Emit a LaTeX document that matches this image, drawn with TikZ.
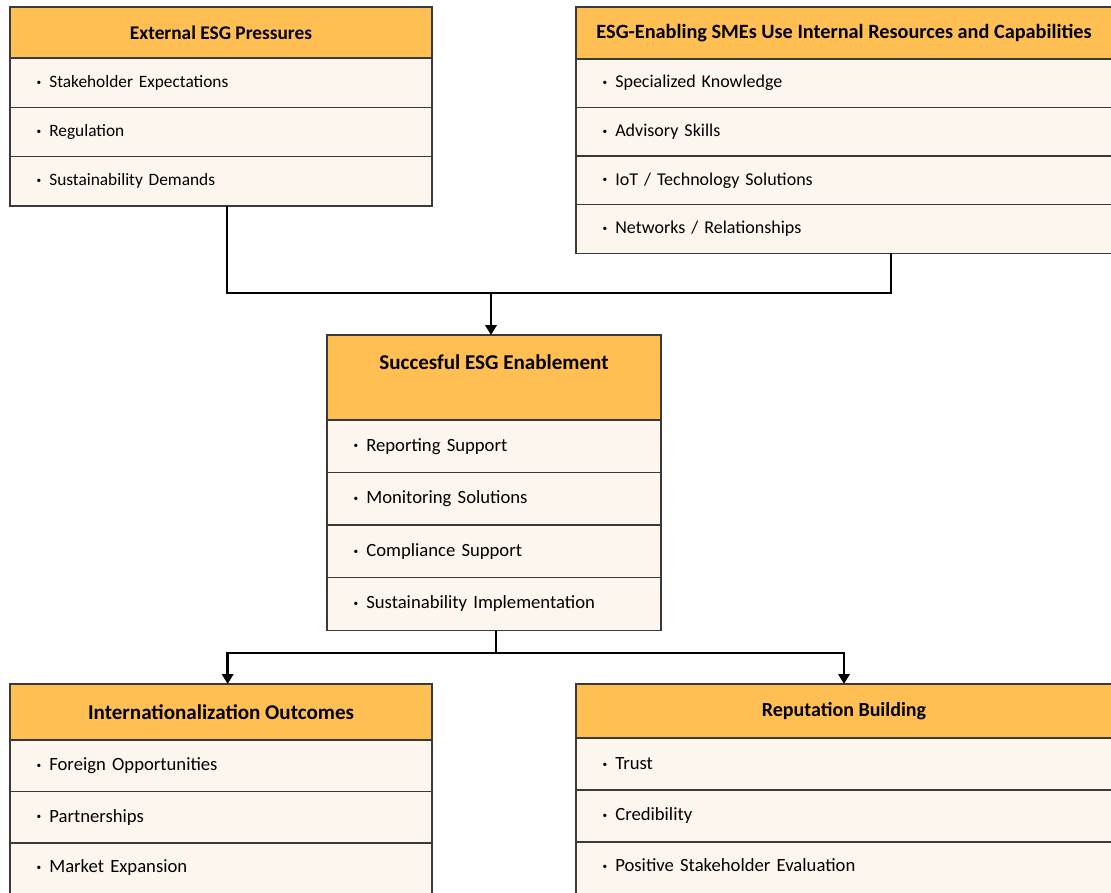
\documentclass[tikz,border=0pt]{standalone}
\usepackage{fontspec}
\setmainfont{Carlito}
\usetikzlibrary{positioning, arrows.meta}

\definecolor{headfill}{HTML}{FFBF52}
\definecolor{itemfill}{HTML}{FDF6EE}
\definecolor{edgegray}{HTML}{3A3A3A}

\tikzset{
  head/.style={draw=edgegray, line width=0.9pt, fill=headfill, outer sep=0pt,
    font=\fontsize{#1}{#1}\selectfont\bfseries, align=center},
  item/.style={draw=edgegray, line width=0.9pt, fill=itemfill, outer sep=0pt,
    inner xsep=20pt, align=left, font=\fontsize{#1}{#1}\selectfont},
  conn/.style={line width=2pt, black},
  arr/.style={conn, -{Triangle[width=8.5pt,length=7.5pt]}}
}
\newcommand{\bul}{\raisebox{0.12em}{\fontsize{7}{7}\selectfont\textbullet}\hspace{6pt}}

\begin{document}
\begin{tikzpicture}[x=0.75pt, y=-0.75pt, node distance=0pt]
  \useasboundingbox (0,0) rectangle (1111,893);

  % external pressures
  \node[head=14.5, minimum width=316.5pt, minimum height=38.25pt, anchor=north west] (ext) at (10,7) {External ESG Pressures};
  \node[item=13, text width=276.5pt, minimum height=37pt, below=of ext] (ext1) {\bul Stakeholder Expectations};
  \node[item=13, text width=276.5pt, minimum height=37pt, below=of ext1] (ext2) {\bul Regulation};
  \node[item=13, text width=276.5pt, minimum height=37pt, below=of ext2] (ext3) {\bul Sustainability Demands};

  % internal resources
  \node[head=15.2, minimum width=402pt, minimum height=39pt, anchor=north west] (res) at (576,7) {ESG-Enabling SMEs Use Internal Resources and Capabilities};
  \node[item=13.5, text width=362pt, minimum height=36.4pt, below=of res] (res1) {\bul Specialized Knowledge};
  \node[item=13.5, text width=362pt, minimum height=36.4pt, below=of res1] (res2) {\bul Advisory Skills};
  \node[item=13.5, text width=362pt, minimum height=36.4pt, below=of res2] (res3) {\bul IoT / Technology Solutions};
  \node[item=13.5, text width=362pt, minimum height=36.4pt, below=of res3] (res4) {\bul Networks / Relationships};

  % enablement
  \node[head=15.8, minimum width=250.5pt, minimum height=63.75pt, anchor=north west] (ena) at (327,335) {Succesful ESG Enablement\\[7pt]\mbox{}};
  \node[item=14, text width=210.5pt, minimum height=39.4pt, below=of ena] (ena1) {\bul Reporting Support};
  \node[item=14, text width=210.5pt, minimum height=39.4pt, below=of ena1] (ena2) {\bul Monitoring Solutions};
  \node[item=14, text width=210.5pt, minimum height=39.4pt, below=of ena2] (ena3) {\bul Compliance Support};
  \node[item=14, text width=210.5pt, minimum height=39.4pt, below=of ena3] (ena4) {\bul Sustainability Implementation};

  % outcomes
  \node[head=15.8, minimum width=316.5pt, minimum height=42pt, anchor=north west] (intl) at (10,684) {Internationalization Outcomes};
  \node[item=14, text width=276.5pt, minimum height=38.6pt, below=of intl] (intl1) {\bul Foreign Opportunities};
  \node[item=14, text width=276.5pt, minimum height=38.6pt, below=of intl1] (intl2) {\bul Partnerships};
  \node[item=14, text width=276.5pt, minimum height=42pt, text depth=7pt, below=of intl2] (intl3) {\bul Market Expansion};

  \node[head=15, minimum width=402pt, minimum height=40.5pt, anchor=north west] (rep) at (576,684) {Reputation Building};
  \node[item=14, text width=362pt, minimum height=39pt, below=of rep] (rep1) {\bul Trust};
  \node[item=14, text width=362pt, minimum height=39pt, below=of rep1] (rep2) {\bul Credibility};
  \node[item=14, text width=362pt, minimum height=42pt, text depth=7pt, below=of rep2] (rep3) {\bul Positive Stakeholder Evaluation};

  % connectors
  \coordinate (jtop) at (491,293);
  \coordinate (jbot) at (496,653);
  \draw[conn] ([xshift=4.5pt]ext3.south) |- (jtop) -| ([xshift=35.25pt]res4.south);
  \draw[arr] (jtop) -- (jtop |- ena.north);
  \draw[conn] (ena4.south -| jbot) -- (jbot);
  \draw[arr] (jbot) -| ([xshift=5pt]intl.north);
  \draw[arr] (jbot) -| (rep.north);
\end{tikzpicture}
\end{document}
